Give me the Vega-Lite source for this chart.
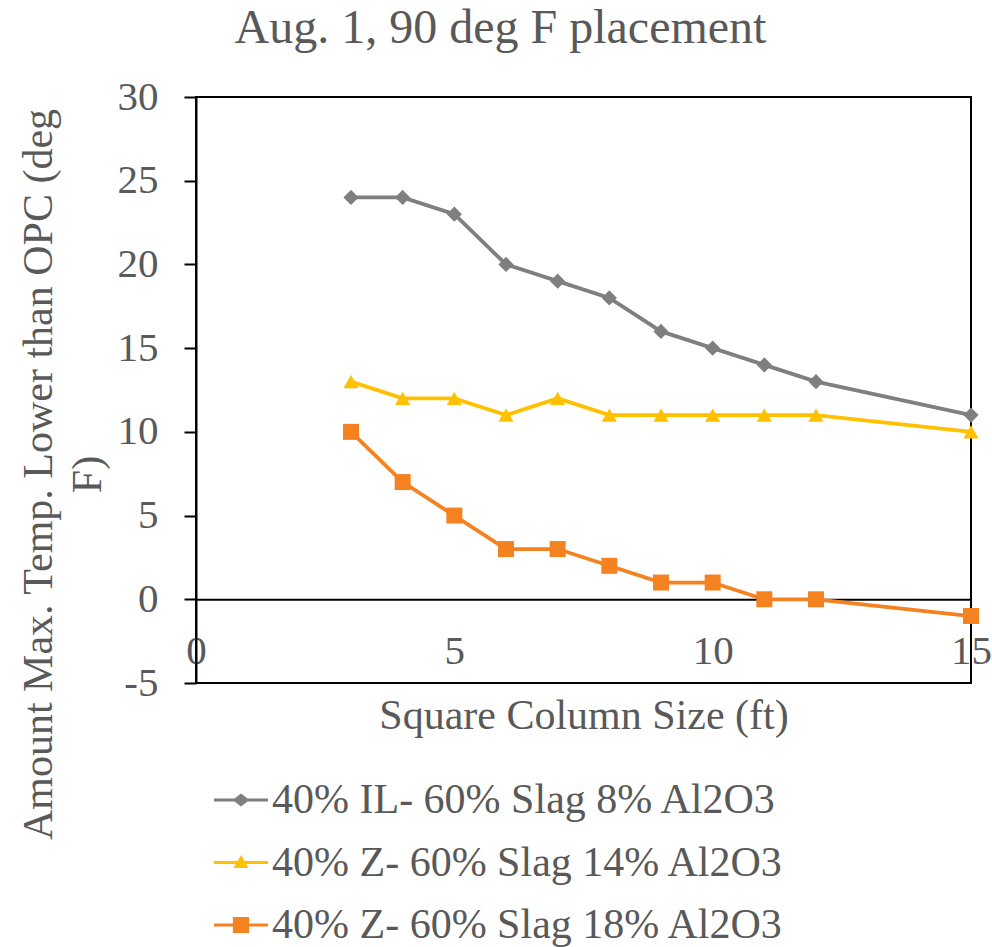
{
  "$schema": "https://vega.github.io/schema/vega-lite/v6.json",
  "width": 775,
  "height": 586,
  "autosize": {"type": "none"},
  "padding": {"left": 196, "top": 97, "right": 21, "bottom": 264},
  "background": "white",
  "config": {
    "font": "Liberation Serif",
    "view": {"stroke": "black", "strokeWidth": 2}
  },
  "title": {
    "text": "Aug. 1, 90 deg F placement",
    "font": "Liberation Serif",
    "fontSize": 48,
    "fontWeight": "normal",
    "color": "#595959",
    "anchor": "middle",
    "dx": -83,
    "dy": 48,
    "offset": 33,
    "baseline": "alphabetic"
  },
  "data": {
    "values": [
      {"series": "40% IL- 60% Slag 8% Al2O3", "ft": 3, "temp": 24},
      {"series": "40% IL- 60% Slag 8% Al2O3", "ft": 4, "temp": 24},
      {"series": "40% IL- 60% Slag 8% Al2O3", "ft": 5, "temp": 23},
      {"series": "40% IL- 60% Slag 8% Al2O3", "ft": 6, "temp": 20},
      {"series": "40% IL- 60% Slag 8% Al2O3", "ft": 7, "temp": 19},
      {"series": "40% IL- 60% Slag 8% Al2O3", "ft": 8, "temp": 18},
      {"series": "40% IL- 60% Slag 8% Al2O3", "ft": 9, "temp": 16},
      {"series": "40% IL- 60% Slag 8% Al2O3", "ft": 10, "temp": 15},
      {"series": "40% IL- 60% Slag 8% Al2O3", "ft": 11, "temp": 14},
      {"series": "40% IL- 60% Slag 8% Al2O3", "ft": 12, "temp": 13},
      {"series": "40% IL- 60% Slag 8% Al2O3", "ft": 15, "temp": 11},
      {"series": "40% Z- 60% Slag 14% Al2O3", "ft": 3, "temp": 13},
      {"series": "40% Z- 60% Slag 14% Al2O3", "ft": 4, "temp": 12},
      {"series": "40% Z- 60% Slag 14% Al2O3", "ft": 5, "temp": 12},
      {"series": "40% Z- 60% Slag 14% Al2O3", "ft": 6, "temp": 11},
      {"series": "40% Z- 60% Slag 14% Al2O3", "ft": 7, "temp": 12},
      {"series": "40% Z- 60% Slag 14% Al2O3", "ft": 8, "temp": 11},
      {"series": "40% Z- 60% Slag 14% Al2O3", "ft": 9, "temp": 11},
      {"series": "40% Z- 60% Slag 14% Al2O3", "ft": 10, "temp": 11},
      {"series": "40% Z- 60% Slag 14% Al2O3", "ft": 11, "temp": 11},
      {"series": "40% Z- 60% Slag 14% Al2O3", "ft": 12, "temp": 11},
      {"series": "40% Z- 60% Slag 14% Al2O3", "ft": 15, "temp": 10},
      {"series": "40% Z- 60% Slag 18% Al2O3", "ft": 3, "temp": 10},
      {"series": "40% Z- 60% Slag 18% Al2O3", "ft": 4, "temp": 7},
      {"series": "40% Z- 60% Slag 18% Al2O3", "ft": 5, "temp": 5},
      {"series": "40% Z- 60% Slag 18% Al2O3", "ft": 6, "temp": 3},
      {"series": "40% Z- 60% Slag 18% Al2O3", "ft": 7, "temp": 3},
      {"series": "40% Z- 60% Slag 18% Al2O3", "ft": 8, "temp": 2},
      {"series": "40% Z- 60% Slag 18% Al2O3", "ft": 9, "temp": 1},
      {"series": "40% Z- 60% Slag 18% Al2O3", "ft": 10, "temp": 1},
      {"series": "40% Z- 60% Slag 18% Al2O3", "ft": 11, "temp": 0},
      {"series": "40% Z- 60% Slag 18% Al2O3", "ft": 12, "temp": 0},
      {"series": "40% Z- 60% Slag 18% Al2O3", "ft": 15, "temp": -1}
    ]
  },
  "encoding": {
    "x": {
      "field": "ft",
      "type": "quantitative",
      "scale": {"domain": [0, 15], "nice": false, "zero": false},
      "axis": {
        "orient": "bottom",
        "offset": -83.7,
        "values": [0, 5, 10, 15],
        "grid": false,
        "ticks": false,
        "tickSize": 0,
        "domainColor": "black",
        "domainWidth": 2,
        "labelFont": "Liberation Serif",
        "labelFontSize": 41,
        "labelColor": "#595959",
        "labelPadding": 32,
        "labelFlush": false,
        "labelOverlap": false,
        "labelBound": false,
        "title": "Square Column Size (ft)",
        "titleFont": "Liberation Serif",
        "titleFontSize": 42,
        "titleFontWeight": "normal",
        "titleColor": "#595959",
        "titleY": 116,
        "titleBaseline": "middle"
      }
    },
    "y": {
      "field": "temp",
      "type": "quantitative",
      "scale": {"domain": [-5, 30], "nice": false, "zero": false},
      "axis": {
        "values": [-5, 0, 5, 10, 15, 20, 25, 30],
        "labelExpr": "replace(datum.label, '\u2212', '-')",
        "grid": false,
        "domainColor": "black",
        "domainWidth": 2,
        "tickColor": "black",
        "tickWidth": 2,
        "tickSize": 12,
        "labelFont": "Liberation Serif",
        "labelFontSize": 41,
        "labelColor": "#595959",
        "labelPadding": 26,
        "labelOverlap": false,
        "labelBound": false,
        "labelFlush": false,
        "title": ["Amount Max. Temp. Lower than OPC (deg", "F)"],
        "titleFont": "Liberation Serif",
        "titleFontSize": 42,
        "titleFontWeight": "normal",
        "titleColor": "#595959",
        "titleAngle": 270,
        "titleX": -178,
        "titleY": 377,
        "titleAlign": "center",
        "titleBaseline": "top",
        "titleLineHeight": 49
      }
    },
    "color": {
      "field": "series",
      "type": "nominal",
      "scale": {
        "domain": ["40% IL- 60% Slag 8% Al2O3", "40% Z- 60% Slag 14% Al2O3", "40% Z- 60% Slag 18% Al2O3"],
        "range": ["#7f7f7f", "#ffc000", "#f58220"]
      },
      "legend": {
        "orient": "none",
        "legendX": 18,
        "legendY": 676,
        "direction": "vertical",
        "title": null,
        "padding": 0,
        "labelFont": "Liberation Serif",
        "labelFontSize": 42,
        "labelColor": "#595959",
        "labelLimit": 0,
        "labelOffset": 4,
        "rowPadding": 14.5,
        "symbolSize": 2916,
        "symbolStrokeWidth": 0,
        "symbolType": "M-1,-0.055L1,-0.055L1,0.055L-1,0.055Z",
        "encode": {
          "symbols": {
            "update": {
              "shape": {"signal": "datum.value === '40% IL- 60% Slag 8% Al2O3' ? 'M-1,-0.06L-0.24,-0.06L0,-0.24L0.24,-0.06L1,-0.06L1,0.06L0.24,0.06L0,0.24L-0.24,0.06L-1,0.06Z' : datum.value === '40% Z- 60% Slag 14% Al2O3' ? 'M-1,-0.06L1,-0.06L1,0.06L-1,0.06Z M-0.28,0.2L0,-0.28L0.28,0.2Z' : 'M-1,-0.06L1,-0.06L1,0.06L-1,0.06Z M-0.3,-0.3L0.3,-0.3L0.3,0.3L-0.3,0.3Z'"},
              "fill": {"scale": "color", "field": "value"},
              "fillOpacity": {"value": 1},
              "opacity": {"value": 1},
              "strokeWidth": {"value": 0}
            }
          }
        }
      }
    }
  },
  "layer": [
    {"mark": {"type": "line", "strokeWidth": 3.8}},
    {
      "transform": [{"filter": "datum.series === '40% IL- 60% Slag 8% Al2O3'"}],
      "mark": {"type": "point", "filled": true, "opacity": 1, "shape": "diamond", "size": 230}
    },
    {
      "transform": [{"filter": "datum.series === '40% Z- 60% Slag 14% Al2O3'"}],
      "mark": {"type": "point", "filled": true, "opacity": 1, "shape": "triangle-up", "size": 230}
    },
    {
      "transform": [{"filter": "datum.series === '40% Z- 60% Slag 18% Al2O3'"}],
      "mark": {"type": "point", "filled": true, "opacity": 1, "shape": "square", "size": 256}
    }
  ]
}
